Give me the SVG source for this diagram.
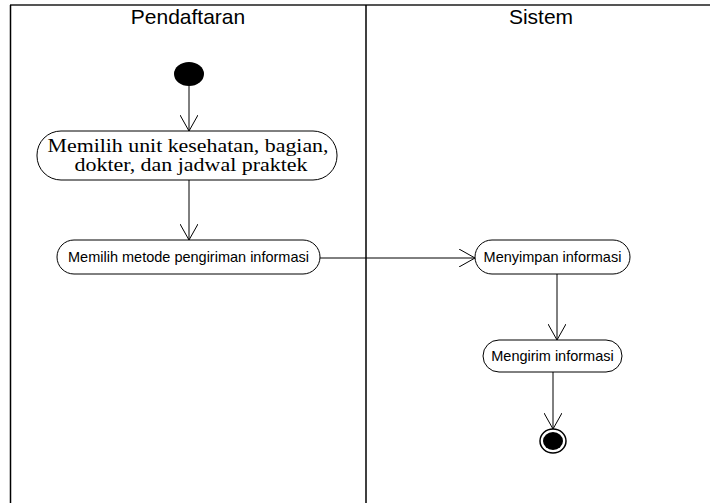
<svg xmlns="http://www.w3.org/2000/svg" width="710" height="503" viewBox="0 0 710 503">
<style>
.lane{stroke:#000;stroke-width:1.5;fill:none}
.top{stroke:#555;stroke-width:2;fill:none}
.act{fill:#fff;stroke:#000;stroke-width:1}
.hdr{font-family:"Liberation Sans",Arial,sans-serif;font-size:21px;fill:#000;text-anchor:middle}
.t{font-family:"Liberation Sans",Arial,sans-serif;font-size:14.5px;fill:#000;text-anchor:middle}
.ts{font-family:"Liberation Serif","Times New Roman",serif;font-size:19px;fill:#000;text-anchor:middle}
.edge{stroke:#000;stroke-width:1;fill:none;marker-end:url(#open)}
</style>
<defs>
<marker id="open" markerUnits="userSpaceOnUse" viewBox="0 0 16 18" refX="16" refY="9" markerWidth="16" markerHeight="18" orient="auto">
<path d="M0,0 L16,9 L0,18" fill="none" stroke="#000" stroke-width="1"/>
</marker>
</defs>
<rect width="710" height="503" fill="#fff"/>
<g id="swimlanes">
<line class="top" x1="10" y1="5" x2="710" y2="5"/>
<line class="lane" x1="10.5" y1="5" x2="10.5" y2="503"/>
<line class="lane" x1="366" y1="5" x2="366" y2="503"/>
<text class="hdr" x="188" y="24">Pendaftaran</text>
<text class="hdr" x="541" y="24">Sistem</text>
</g>
<g id="start"><ellipse cx="189" cy="74" rx="15" ry="12" fill="#000"/></g>
<g id="n1">
<rect class="act" x="37" y="131" width="300" height="49" rx="24" ry="24"/>
<text class="ts" x="188" y="152" textLength="281" lengthAdjust="spacingAndGlyphs">Memilih unit kesehatan, bagian,</text>
<text class="ts" x="191" y="171" textLength="233" lengthAdjust="spacingAndGlyphs">dokter, dan jadwal praktek</text>
</g>
<g id="n2">
<rect class="act" x="57" y="240" width="263" height="34" rx="17" ry="17"/>
<text class="t" x="188.5" y="262">Memilih metode pengiriman informasi</text>
</g>
<g id="n3">
<rect class="act" x="475" y="240" width="155" height="34" rx="17" ry="17"/>
<text class="t" x="552.5" y="262">Menyimpan informasi</text>
</g>
<g id="n4">
<rect class="act" x="483" y="340" width="139" height="32" rx="16" ry="16"/>
<text class="t" x="552.5" y="361">Mengirim informasi</text>
</g>
<g id="end">
<ellipse cx="553" cy="441" rx="13" ry="12" fill="#fff" stroke="#000" stroke-width="1.5"/>
<ellipse cx="553" cy="441" rx="10" ry="9" fill="#000"/>
</g>
<g id="connectors">
<line class="edge" x1="189" y1="86" x2="189" y2="131"/>
<line class="edge" x1="189" y1="180" x2="189" y2="240"/>
<line class="edge" x1="320" y1="258" x2="475" y2="258"/>
<line class="edge" x1="557" y1="274" x2="557" y2="340"/>
<line class="edge" x1="553" y1="372" x2="553" y2="429"/>
</g>
</svg>
